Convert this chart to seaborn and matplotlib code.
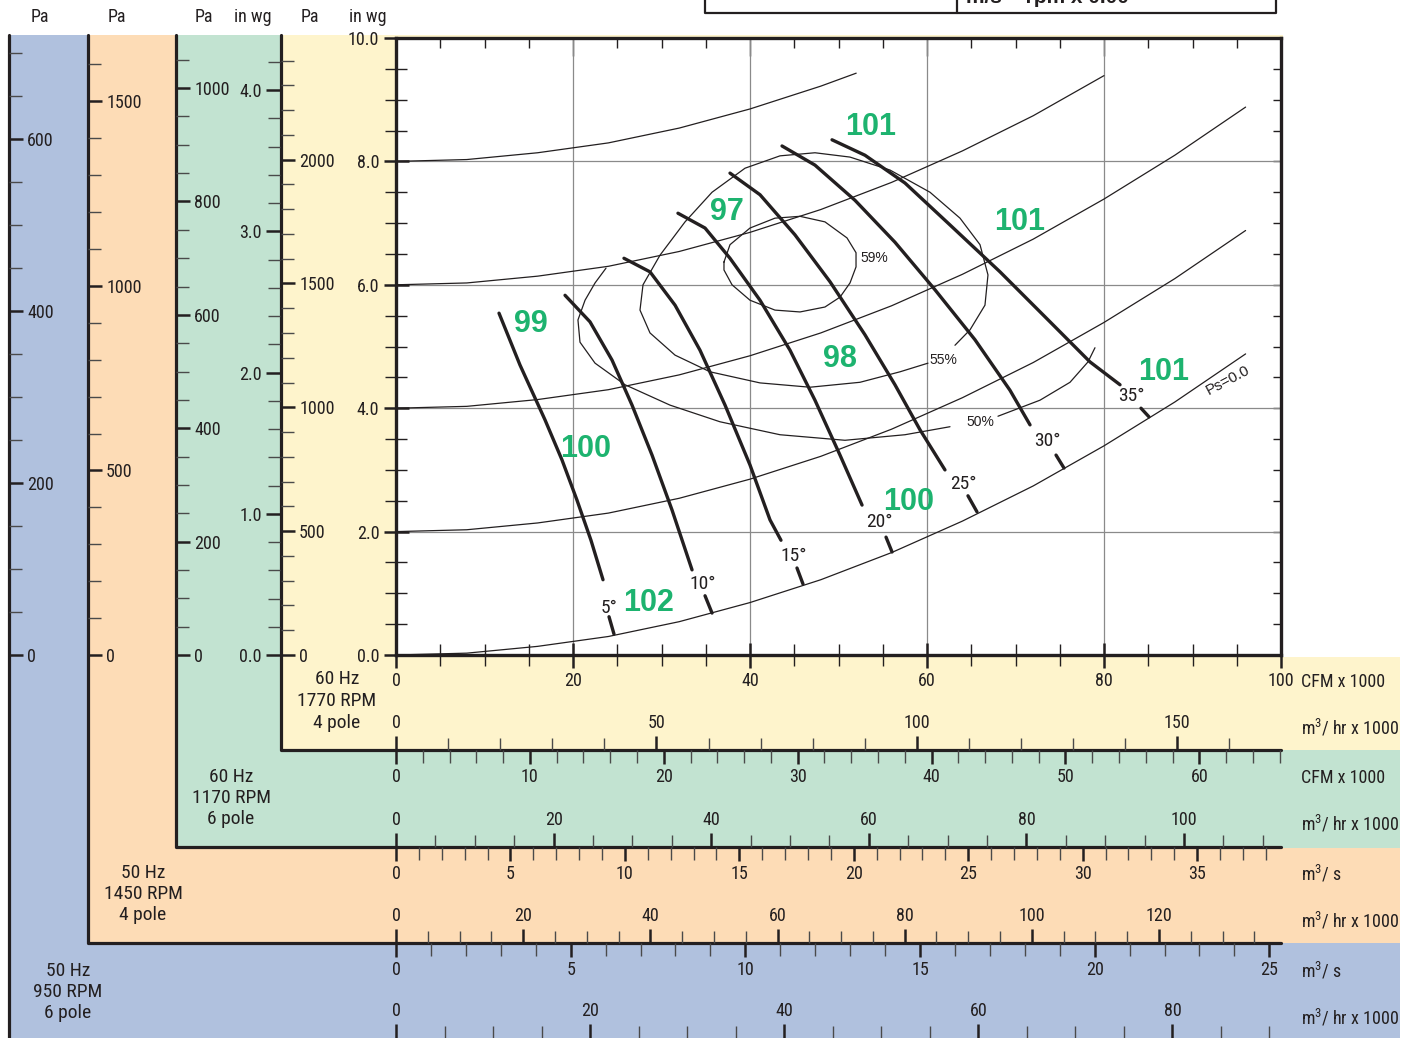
import matplotlib
matplotlib.use('Agg')
import matplotlib.pyplot as plt
import matplotlib.ticker as mticker
from matplotlib import font_manager as fm
from matplotlib.patches import Rectangle
import seaborn as sns

# ---------------- data ----------------
# fan speeds of the four bands (fan laws: flow ~ rpm, pressure ~ rpm^2)
base_rpm = 1770
rpm_1170 = 1170
rpm_1450 = 1450
rpm_950 = 950
pa_per_inwg = 249.09
m3h_per_cfm = 1.699
m3s_per_cfm = 0.000472
max_cfm_k = 100.0   # CFM x 1000 at 1770 rpm
max_inwg = 10.0

# static pressure lines (total pressure, in wg) vs CFM x 1000
ps0_q = [0, 8, 16, 24, 32, 40, 48, 56, 64, 72, 80, 88, 96]
ps0_p = [0.0, 0.03, 0.14, 0.30, 0.54, 0.85, 1.22, 1.66, 2.17, 2.74, 3.39, 4.10, 4.88]
ps2_q = [0, 8, 16, 24, 32, 40, 48, 56, 64, 72, 80, 88, 96]
ps2_p = [2.0, 2.03, 2.14, 2.30, 2.54, 2.85, 3.22, 3.66, 4.17, 4.74, 5.39, 6.10, 6.88]
ps4_q = [0, 8, 16, 24, 32, 40, 48, 56, 64, 72, 80, 88, 96]
ps4_p = [4.0, 4.03, 4.14, 4.30, 4.54, 4.85, 5.22, 5.66, 6.17, 6.74, 7.39, 8.10, 8.88]
ps6_q = [0, 8, 16, 24, 32, 40, 48, 56, 64, 72, 80]
ps6_p = [6.0, 6.03, 6.14, 6.30, 6.54, 6.85, 7.22, 7.66, 8.17, 8.74, 9.39]
ps8_q = [0, 8, 16, 24, 32, 40, 48, 52]
ps8_p = [8.0, 8.03, 8.14, 8.30, 8.54, 8.85, 9.22, 9.43]

# blade angle curves
blade_names = ['5°', '10°', '15°', '20°', '25°', '30°', '35°']
blade_q = [
    [11.64, 14.01, 16.84, 18.76, 20.45, 22.03, 23.39],
    [19.10, 21.92, 24.41, 26.67, 28.93, 31.19, 33.45],
    [25.76, 28.70, 31.53, 34.35, 37.18, 40.00, 42.26, 43.50],
    [31.86, 34.92, 37.74, 41.13, 44.52, 47.34, 50.17, 52.66],
    [37.74, 41.13, 45.08, 49.04, 52.99, 56.38, 59.21, 62.03],
    [43.62, 47.34, 51.86, 56.38, 60.90, 65.42, 69.38, 71.64],
    [49.27, 52.99, 57.51, 62.60, 68.25, 73.90, 78.42, 81.81],
]
blade_p = [
    [5.54, 4.70, 3.81, 3.16, 2.51, 1.86, 1.22],
    [5.83, 5.40, 4.78, 4.05, 3.24, 2.35, 1.38],
    [6.43, 6.21, 5.67, 4.94, 4.05, 3.08, 2.19, 1.86],
    [7.16, 6.92, 6.43, 5.75, 4.94, 4.13, 3.24, 2.43],
    [7.81, 7.46, 6.81, 6.05, 5.19, 4.38, 3.65, 3.00],
    [8.25, 7.94, 7.37, 6.69, 5.92, 5.11, 4.29, 3.73],
    [8.35, 8.10, 7.65, 6.97, 6.21, 5.40, 4.75, 4.38],
]
stub_q = [[24.07, 24.63], [34.92, 35.71], [45.31, 45.99], [55.37, 56.05],
          [64.63, 65.65], [74.58, 75.48], [84.18, 85.08]]
stub_p = [[0.62, 0.34], [0.96, 0.68], [1.41, 1.15], [1.91, 1.67],
          [2.58, 2.32], [3.24, 3.03], [4.00, 3.86]]
blade_lab_q = [24.1, 34.7, 44.9, 54.6, 64.1, 73.6, 83.1]
blade_lab_p = [0.76, 1.15, 1.60, 2.16, 2.77, 3.47, 4.20]

# efficiency contours
eff59_q = [37.06, 37.74, 40.00, 42.82, 45.65, 48.47, 50.96, 51.98, 51.98, 51.30,
           50.17, 48.47, 45.65, 42.82, 40.00, 37.97, 37.06, 37.06]
eff59_p = [6.37, 6.65, 6.92, 7.08, 7.11, 7.02, 6.76, 6.52, 6.29, 6.03,
           5.80, 5.64, 5.56, 5.59, 5.75, 6.00, 6.24, 6.37]
eff55_q = [63.16, 64.86, 66.55, 66.89, 65.99, 63.73, 60.34, 55.82, 51.30, 47.34,
           43.39, 39.44, 35.71, 32.66, 29.83, 27.91, 27.57, 28.70, 31.53, 35.48,
           41.13, 46.78, 52.43, 56.95, 60.11]
eff55_p = [5.02, 5.27, 5.67, 6.16, 6.65, 7.08, 7.50, 7.86, 8.07, 8.14,
           8.09, 7.89, 7.50, 7.02, 6.48, 6.00, 5.59, 5.22, 4.86, 4.59,
           4.41, 4.34, 4.42, 4.59, 4.73]
eff50a_q = [23.73, 22.49, 21.36, 20.56, 20.79, 22.49, 25.88, 30.96, 36.61, 43.39,
            50.73, 57.51, 62.60]
eff50a_p = [6.27, 6.03, 5.75, 5.43, 5.07, 4.73, 4.38, 4.05, 3.78, 3.57,
            3.48, 3.57, 3.70]
eff50b_q = [68.02, 72.77, 76.16, 78.19, 78.98]
eff50b_p = [3.87, 4.13, 4.42, 4.75, 4.98]
eff_names = ['59%', '55%', '50%']
eff_lab_q = [54.1, 61.8, 66.0]
eff_lab_p = [6.43, 4.78, 3.78]

# sound level labels (green)
noise_txt = ['101', '97', '101', '99', '98', '101', '100', '100', '102']
noise_q = [53.6, 37.4, 70.5, 15.25, 50.2, 86.7, 21.4, 57.9, 28.5]
noise_p = [8.56, 7.18, 7.02, 5.36, 4.80, 4.59, 3.34, 2.48, 0.84]

# ---------------- style ----------------
sns.set_theme(style='ticks')

# pick a condensed face if the machine has one
_fonts = fm.fontManager.ttflist
_names = {f.name for f in _fonts}
NARROW, STRETCH, FS = 'Liberation Sans', 'normal', 12
for cand in ['Liberation Sans Narrow', 'Roboto Condensed', 'Noto Sans Condensed',
             'Open Sans Condensed', 'DejaVu Sans Condensed', 'Arial Narrow']:
    if cand in _names:
        NARROW, STRETCH, FS = cand, 'normal', 13
        break
else:
    for fam in ['Roboto', 'Noto Sans', 'DejaVu Sans', 'Open Sans', 'Inter']:
        if any(f.name == fam and f.stretch in ('condensed', 'semi-condensed') and f.style == 'normal'
               for f in _fonts):
            NARROW, STRETCH, FS = fam, 'condensed', 13
            break

plt.rcParams['font.family'] = [NARROW, 'DejaVu Sans']
plt.rcParams['font.stretch'] = STRETCH
plt.rcParams['mathtext.default'] = 'regular'
WIDE = dict(family=['Liberation Sans', 'DejaVu Sans'], stretch='normal')

INK = '#231f20'
BLUE, ORANGE, GREEN, YELLOW = '#b0c1de', '#fddcb6', '#c2e3d1', '#fef4cc'
LAB_GREEN = '#1db36f'

W, H = 1412, 1038
X0, X1, Y0, Y1 = 396, 1281, 655, 38   # main plot frame in pixels

fig = plt.figure(figsize=(W / 100, H / 100), dpi=100)
fig.patch.set_facecolor('white')

# background bands drawn in pixel space
bg = fig.add_axes([0, 0, 1, 1], zorder=0)
bg.set_xlim(0, W)
bg.set_ylim(H, 0)
bg.axis('off')
for x, y, w, h, c in [(8, 35, 1392, 1010, BLUE), (87, 35, 1313, 908, ORANGE),
                      (175, 35, 1225, 813, GREEN), (281, 35, 1119, 715, YELLOW),
                      (1283, 0, 129, 657, 'white'), (1400, 0, 12, H, 'white')]:
    bg.add_patch(Rectangle((x, y), w, h, facecolor=c, edgecolor='none'))
lw_b = 2.3
bg.plot([9, 9], [35, H], color=INK, lw=lw_b)
bg.plot([88, 88, 1281], [35, 943, 943], color=INK, lw=lw_b)
bg.plot([176, 176, 1281], [35, 847, 847], color=INK, lw=lw_b)
bg.plot([281, 281, 1281], [35, 750, 750], color=INK, lw=lw_b)

# partial box at the top edge
bg.plot([705, 705, 1276, 1276], [-5, 13, 13, -5], color=INK, lw=1.6)
bg.plot([957, 957], [-5, 13], color=INK, lw=1.6)
bg.text(966, 3, 'm/s = rpm x 0.00', fontsize=15, fontweight='bold', color=INK,
        va='baseline', **WIDE)

# top unit headers
for x, s in [(40, 'Pa'), (117, 'Pa'), (204, 'Pa'), (253, 'in wg'), (310, 'Pa'), (368, 'in wg')]:
    bg.text(x, 17, s, ha='center', va='center', fontsize=FS, color=INK)

# band names
for x, y, s in [(337, 701, '60 Hz\n1770 RPM\n4 pole'), (231, 798, '60 Hz\n1170 RPM\n6 pole'),
                (143, 894, '50 Hz\n1450 RPM\n4 pole'), (68, 992, '50 Hz\n950 RPM\n6 pole')]:
    bg.text(x, y, s, ha='center', va='center', fontsize=FS + 1, linespacing=1.25, color=INK)

# unit labels on the right
for y, s in [(682, 'CFM x 1000'), (728, 'm$^3$/ hr x 1000'), (778, 'CFM x 1000'),
             (824, 'm$^3$/ hr x 1000'), (874, 'm$^3$/ s'), (921, 'm$^3$/ hr x 1000'),
             (971, 'm$^3$/ s'), (1018, 'm$^3$/ hr x 1000')]:
    bg.text(1301, y, s, ha='left', va='center', fontsize=FS, color=INK)


def style_ticks(axis_obj, ax_name, a, major, minor, fmt):
    axis_obj.set_major_locator(mticker.MultipleLocator(major))
    axis_obj.set_minor_locator(mticker.MultipleLocator(minor))
    axis_obj.set_major_formatter(mticker.FormatStrFormatter(fmt))
    a.tick_params(axis=ax_name, which='both', direction='out', labelsize=FS,
                  pad=3, colors=INK)
    a.tick_params(axis=ax_name, which='major', length=10, width=1.8)
    a.tick_params(axis=ax_name, which='minor', length=9, width=1.0, color='#4a4a4a')


def vscale(xpix, vmax, major, minor, side, fmt):
    a = fig.add_axes([xpix / W, 1 - Y0 / H, 1e-5, (Y0 - Y1) / H], zorder=2)
    a.set_ylim(0, vmax)
    a.patch.set_alpha(0)
    for s in a.spines.values():
        s.set_visible(False)
    a.xaxis.set_visible(False)
    a.yaxis.set_ticks_position(side)
    style_ticks(a.yaxis, 'y', a, major, minor, fmt)
    return a


def hscale(ypix, vmax, major, minor, side, fmt='%d'):
    a = fig.add_axes([X0 / W, 1 - ypix / H, (X1 - X0) / W, 1e-5], zorder=2)
    a.set_xlim(0, vmax)
    a.patch.set_alpha(0)
    for s in a.spines.values():
        s.set_visible(False)
    a.yaxis.set_visible(False)
    a.xaxis.set_ticks_position(side)
    style_ticks(a.xaxis, 'x', a, major, minor, fmt)
    return a


def ratio(rpm):
    return rpm / base_rpm


pa_top = max_inwg * pa_per_inwg
# pressure scales on the left
vscale(9, pa_top * ratio(rpm_950) ** 2, 200, 50, 'right', '%d')
vscale(88, pa_top * ratio(rpm_1450) ** 2, 500, 100, 'right', '%d')
vscale(176, pa_top * ratio(rpm_1170) ** 2, 200, 50, 'right', '%d')
vscale(280, max_inwg * ratio(rpm_1170) ** 2, 1.0, 0.2, 'left', '%.1f')
vscale(281, pa_top, 500, 100, 'right', '%d')

# flow scales below
hscale(750, max_cfm_k * m3h_per_cfm, 50, 10, 'top')
hscale(750, max_cfm_k * ratio(rpm_1170), 10, 2, 'bottom')
hscale(847, max_cfm_k * ratio(rpm_1170) * m3h_per_cfm, 20, 5, 'top')
hscale(847, max_cfm_k * 1000 * ratio(rpm_1450) * m3s_per_cfm, 5, 1, 'bottom')
hscale(943, max_cfm_k * ratio(rpm_1450) * m3h_per_cfm, 20, 5, 'top')
hscale(943, max_cfm_k * 1000 * ratio(rpm_950) * m3s_per_cfm, 5, 1, 'bottom')
hscale(H, max_cfm_k * ratio(rpm_950) * m3h_per_cfm, 20, 5, 'top')

# ---------------- main chart ----------------
ax = fig.add_axes([X0 / W, 1 - Y0 / H, (X1 - X0) / W, (Y0 - Y1) / H], zorder=3)
ax.set_facecolor('white')

thin = dict(color=INK, linewidth=0.9, sort=False, estimator=None, ax=ax)
for q, p in [(ps0_q, ps0_p), (ps2_q, ps2_p), (ps4_q, ps4_p), (ps6_q, ps6_p), (ps8_q, ps8_p),
             (eff59_q, eff59_p), (eff55_q, eff55_p), (eff50a_q, eff50a_p), (eff50b_q, eff50b_p)]:
    sns.lineplot(x=q, y=p, **thin)

thick = dict(color=INK, linewidth=2.4, sort=False, estimator=None, ax=ax)
for q, p in zip(blade_q, blade_p):
    sns.lineplot(x=q, y=p, **thick)
for q, p in zip(stub_q, stub_p):
    sns.lineplot(x=q, y=p, **thick)

for s, q, p in zip(blade_names, blade_lab_q, blade_lab_p):
    ax.text(q, p, s, ha='center', va='center', fontsize=FS + 1, color=INK)
for s, q, p in zip(eff_names, eff_lab_q, eff_lab_p):
    ax.text(q, p, s, ha='center', va='center', fontsize=10, color=INK, **WIDE)
for s, q, p in zip(noise_txt, noise_q, noise_p):
    ax.text(q, p, s, ha='center', va='center', fontsize=22, fontweight='bold',
            color=LAB_GREEN, **WIDE)
ax.text(94.0, 4.46, 'Ps=0.0', ha='center', va='center', rotation=28, fontsize=11,
        color=INK, **WIDE)

ax.set_xlim(0, max_cfm_k)
ax.set_ylim(0, max_inwg)
ax.set_xlabel('')
ax.set_ylabel('')
ax.set_axisbelow(True)
ax.grid(which='major', color='#8a8a8a', linewidth=0.9)
for s in ax.spines.values():
    s.set_linewidth(2.4)
    s.set_color(INK)
ax.xaxis.set_major_locator(mticker.MultipleLocator(20))
ax.xaxis.set_minor_locator(mticker.MultipleLocator(5))
ax.yaxis.set_major_locator(mticker.MultipleLocator(2))
ax.yaxis.set_minor_locator(mticker.MultipleLocator(0.5))
ax.xaxis.set_major_formatter(mticker.FormatStrFormatter('%d'))
ax.yaxis.set_major_formatter(mticker.FormatStrFormatter('%.1f'))
ax.tick_params(which='both', direction='inout', length=16, width=1.0, labelsize=FS,
               colors=INK, pad=3, bottom=True, left=True, top=False, right=False)
ax.tick_params(which='major', width=1.8, length=18)

top = ax.secondary_xaxis('top')
top.xaxis.set_major_locator(mticker.MultipleLocator(20))
top.xaxis.set_minor_locator(mticker.MultipleLocator(5))
top.tick_params(which='both', direction='in', labeltop=False, colors=INK)
top.tick_params(which='major', length=13, width=1.0)
top.tick_params(which='minor', length=7, width=1.0)
top.spines['top'].set_visible(False)

right = ax.secondary_yaxis('right')
right.yaxis.set_major_locator(mticker.MultipleLocator(0.5))
right.tick_params(which='major', direction='in', length=6, width=1.0, labelright=False, colors=INK)
right.spines['right'].set_visible(False)

fig.savefig('out.png', dpi=100)
